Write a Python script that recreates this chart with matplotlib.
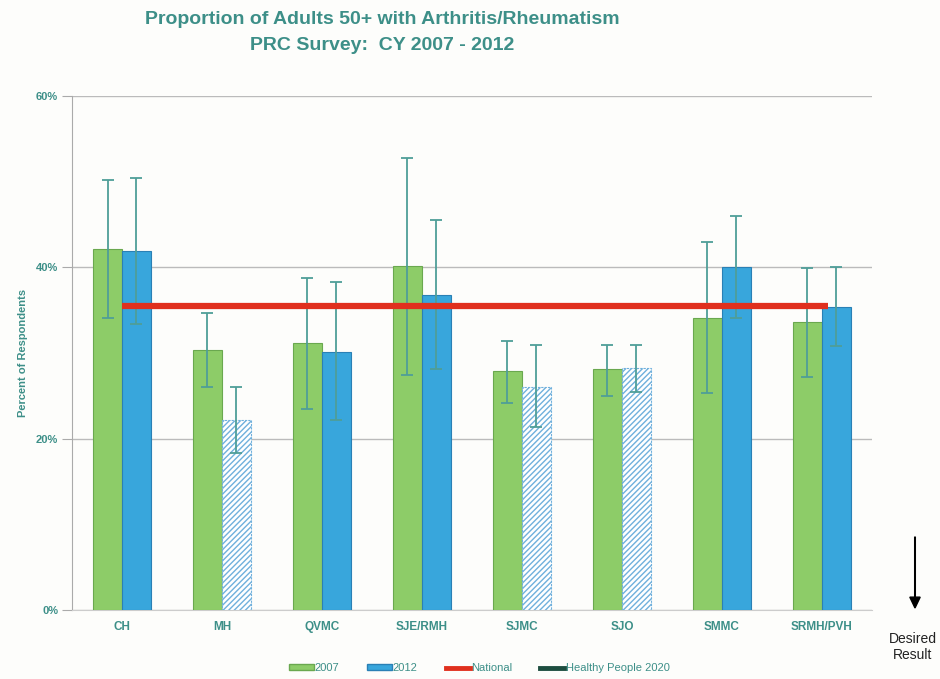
import numpy as np
import matplotlib.pyplot as plt
from matplotlib.lines import Line2D
from matplotlib.patches import Patch, FancyArrow

plt.rcParams['font.family'] = ['Liberation Sans', 'DejaVu Sans']

# values (percent)
categories = ['CH', 'MH', 'QVMC', 'SJE/RMH', 'SJMC', 'SJO', 'SMMC', 'SRMH/PVH']
val_2007 = [42.1, 30.3, 31.2, 40.2, 27.9, 28.1, 34.1, 33.6]
low_2007 = [34.1, 26.0, 23.5, 27.4, 24.2, 25.0, 25.3, 27.2]
high_2007 = [50.2, 34.7, 38.8, 52.8, 31.4, 30.9, 43.0, 39.9]
val_2012 = [41.9, 22.2, 30.1, 36.8, 26.0, 28.2, 40.0, 35.4]
low_2012 = [33.4, 18.3, 22.2, 28.1, 21.4, 25.4, 34.1, 30.8]
high_2012 = [50.4, 26.0, 38.3, 45.5, 30.9, 30.9, 46.0, 40.0]
hatched_2012 = [False, True, False, False, True, True, False, False]
national = 35.5

teal = '#3d8f88'
green = '#8dcc68'
blue = '#38a6dc'
err_col = '#4f9e98'

fig = plt.figure(figsize=(9.4, 6.79), dpi=100)
fig.patch.set_facecolor('#fdfdfb')
ax = fig.add_axes([0.0766, 0.1016, 0.851, 0.757])
ax.set_facecolor('#fdfdfb')

x = np.arange(len(categories))
w = 0.29

ax.bar(x - w / 2, val_2007, w, color=green, edgecolor='#6aa84f', linewidth=0.8, zorder=3)
for i in range(len(categories)):
    if hatched_2012[i]:
        ax.bar(x[i] + w / 2, val_2012[i], w, color='white', edgecolor='#6fb0dc',
               hatch='//////', linewidth=0.8, linestyle=(0, (2, 1)), zorder=3)
    else:
        ax.bar(x[i] + w / 2, val_2012[i], w, color=blue, edgecolor='#2a80b5',
               linewidth=0.8, zorder=3)

v7 = np.array(val_2007)
v12 = np.array(val_2012)
ax.errorbar(x - w / 2, v7, yerr=[v7 - np.array(low_2007), np.array(high_2007) - v7],
            fmt='none', ecolor=err_col, elinewidth=1.3, capsize=4, capthick=1.3, zorder=4)
ax.errorbar(x + w / 2, v12, yerr=[v12 - np.array(low_2012), np.array(high_2012) - v12],
            fmt='none', ecolor=err_col, elinewidth=1.3, capsize=4, capthick=1.3, zorder=4)

ax.plot([x[0], x[-1] + 0.06], [national, national], color='#e0301e', linewidth=4.5,
        solid_capstyle='butt', zorder=5)

ax.set_xlim(-0.5, len(categories) - 0.5)
ax.set_ylim(0, 60)
ax.set_yticks([0, 20, 40, 60])
ax.set_yticklabels(['0%', '20%', '40%', '60%'])
ax.yaxis.grid(True, color='#bbbbbb', linewidth=1, zorder=0)
ax.set_axisbelow(True)
ax.set_xticks(x)
ax.set_xticklabels(categories)
for s in ['top', 'right']:
    ax.spines[s].set_visible(False)
ax.spines['left'].set_color('#aaaaaa')
ax.spines['bottom'].set_color('#cccccc')
ax.tick_params(axis='y', colors=teal, labelsize=8, length=7, color='#aaaaaa', direction='out', pad=3)
ax.tick_params(axis='x', colors=teal, labelsize=8.5, length=0, pad=8)
for lbl in ax.get_xticklabels() + ax.get_yticklabels():
    lbl.set_fontweight('bold')
ax.set_ylabel('Percent of Respondents', color=teal, fontsize=8, fontweight='bold', labelpad=6)

fig.text(0.407, 0.984, 'Proportion of Adults 50+ with Arthritis/Rheumatism\nPRC Survey:  CY 2007 - 2012',
         ha='center', va='top', color=teal, fontsize=14, fontweight='bold', linespacing=1.7)

# desired result arrow
fig.patches.append(FancyArrow(
    915 / 940, 1 - 537 / 679, 0, -(608 - 537) / 679 + 0.016, width=0.0007,
    head_width=0.011, head_length=0.016, color='black', transform=fig.transFigure))
fig.text(913 / 940, 1 - 647 / 679, 'Desired\nResult', ha='center', va='center',
         fontsize=10, color='#222222', linespacing=1.2)

handles = [Patch(facecolor=green, edgecolor='#6aa84f'),
           Patch(facecolor=blue, edgecolor='#2a80b5'),
           Line2D([], [], color='#e0301e', linewidth=3.5),
           Line2D([], [], color='#1d4d3f', linewidth=3.5)]
labels = ['2007', '2012', 'National', 'Healthy People 2020']
leg = fig.legend(handles, labels, loc='center', bbox_to_anchor=(0.51, 1 - 668 / 679), ncol=4,
                 frameon=False, fontsize=8, handlelength=2.2, handleheight=0.4,
                 handletextpad=0.1, columnspacing=2.5)
for t in leg.get_texts():
    t.set_color(teal)

fig.savefig('out.png', dpi=100, facecolor=fig.get_facecolor())
